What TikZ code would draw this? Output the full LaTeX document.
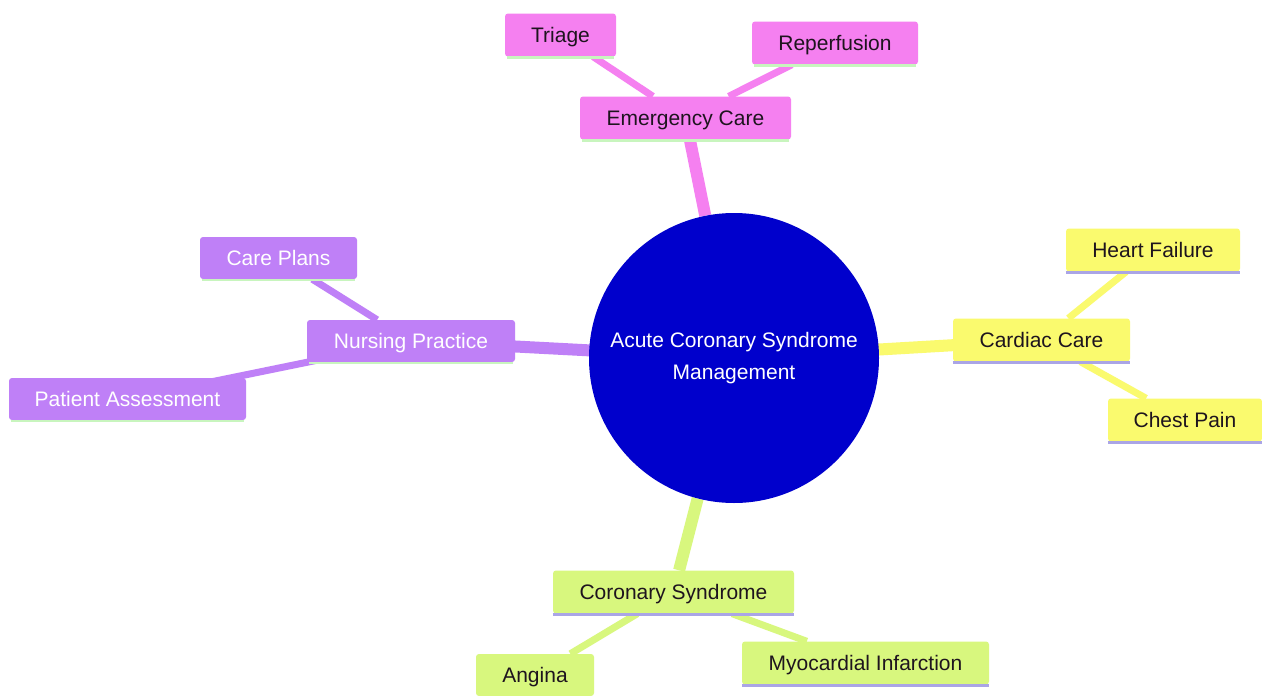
\documentclass[tikz,border=0pt]{standalone}
\usepackage{fontspec}
\setmainfont{Liberation Sans}
\usetikzlibrary{backgrounds}
\definecolor{cpink}{RGB}{245,128,240}
\definecolor{cpurple}{RGB}{191,128,247}
\definecolor{cyellow}{RGB}{250,250,110}
\definecolor{cgreen}{RGB}{216,247,126}
\definecolor{croot}{RGB}{0,0,204}
\definecolor{ulgreen}{RGB}{200,245,190}
\definecolor{ulpurple}{RGB}{170,165,230}
\definecolor{tdark}{RGB}{30,20,30}
\tikzset{
  mm/.style={rectangle, rounded corners=3pt, inner sep=0pt, minimum height=43pt,
    font=\fontsize{21}{24}\selectfont, text=tdark, text depth=3pt, text height=18pt},
  pinkbox/.style={mm, fill=cpink},
  purplebox/.style={mm, fill=cpurple, text=white},
  yellowbox/.style={mm, fill=cyellow},
  greenbox/.style={mm, fill=cgreen},
  rootnode/.style={circle, fill=croot, minimum size=290pt, inner sep=0pt, text=white,
    align=center, font=\fontsize{21}{32}\selectfont},
  mainedge/.style={line width=12pt},
  subedge/.style={line width=7pt},
  ulg/.style={draw=ulgreen, line width=2.5pt},
  ulp/.style={draw=ulpurple, line width=2.5pt},
}
\begin{document}
\begin{tikzpicture}[x=1pt,y=-1pt]
\useasboundingbox (0,0) rectangle (1262,696);

\node[rootnode] (root) at (734,358) {Acute Coronary Syndrome\\Management};

\node[pinkbox, minimum width=211pt] (emerg) at (685.5,118) {Emergency Care};
\node[pinkbox, minimum width=111pt] (triage) at (560.5,35) {Triage};
\node[pinkbox, minimum width=166pt] (reperf) at (835,43) {Reperfusion};

\node[yellowbox, minimum width=177pt] (cardiac) at (1041.5,340) {Cardiac Care};
\node[yellowbox, minimum width=174pt] (heart) at (1153,250) {Heart Failure};
\node[yellowbox, minimum width=154pt] (chest) at (1185,420) {Chest Pain};

\node[purplebox, minimum width=208pt, minimum height=42pt] (nursing) at (411,341) {Nursing Practice};
\node[purplebox, minimum width=157pt, minimum height=42pt] (careplans) at (278.5,258) {Care Plans};
\node[purplebox, minimum width=237pt, minimum height=42pt] (patient) at (127.5,399) {Patient Assessment};

\node[greenbox, minimum width=241pt] (coronary) at (673.5,592) {Coronary Syndrome};
\node[greenbox, minimum width=118pt, minimum height=42pt] (angina) at (535,675) {Angina};
\node[greenbox, minimum width=247pt] (myo) at (865.5,663) {Myocardial Infarction};

\begin{scope}[on background layer]
  \fill[white] (0,0) rectangle (1262,696);
  \draw[mainedge, cpink] (root) -- (emerg);
  \draw[mainedge, cyellow] (root.center) -- (cardiac.center);
  \draw[mainedge, cpurple] (root.center) -- (nursing.center);
  \draw[mainedge, cgreen] (root) -- (coronary);
  \draw[subedge, cpink] (emerg) -- (triage);
  \draw[subedge, cpink] (emerg) -- (reperf);
  \draw[subedge, cyellow] (cardiac) -- (heart);
  \draw[subedge, cyellow] (cardiac) -- (chest);
  \draw[subedge, cpurple] (nursing) -- (careplans);
  \draw[subedge, cpurple] (nursing.center) -- (patient.center);
  \draw[subedge, cgreen] (coronary) -- (angina);
  \draw[subedge, cgreen] (coronary) -- (myo);
\end{scope}

\foreach \n in {emerg,triage,reperf,nursing,careplans,patient}
  \draw[ulg] ([xshift=2pt,yshift=-1pt]\n.south west) -- ([xshift=-2pt,yshift=-1pt]\n.south east);
\foreach \n in {cardiac,heart,chest,coronary,angina,myo}
  \draw[ulp] ([yshift=-1pt]\n.south west) -- ([yshift=-1pt]\n.south east);
\end{tikzpicture}
\end{document}
